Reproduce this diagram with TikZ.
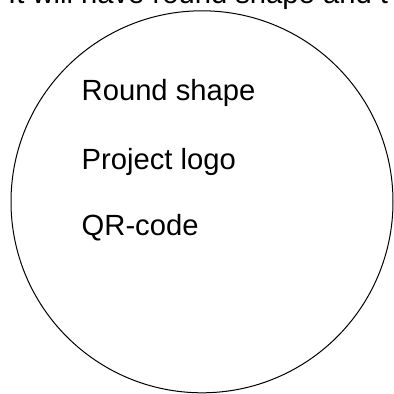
\documentclass[tikz,border=0pt]{standalone}
\usepackage{fontspec}
\setmainfont{Liberation Sans}
\usepackage{tikz}

\begin{document}
\begin{tikzpicture}[x=1pt, y=-1pt, every node/.style={font=\fontsize{29.2}{35}\selectfont, inner sep=0pt}]
        \useasboundingbox (0,0) rectangle (394,394);
        \clip (0,0) rectangle (394,394);
        \node[anchor=base west] (intro) at (8,3.5) {It will have round shape and t};
        \node[draw, circle, line width=1pt, minimum size=382pt] (badge) at (202,201.8) {};
        \node[anchor=base west] (shape) at (81.5,100.7) {Round shape};
        \node[anchor=base west] (logo) at (81.5,169.2) {Project logo};
        \node[anchor=base west] (qr) at (81.5,235.5) {QR-code};
    \end{tikzpicture}
\end{document}
